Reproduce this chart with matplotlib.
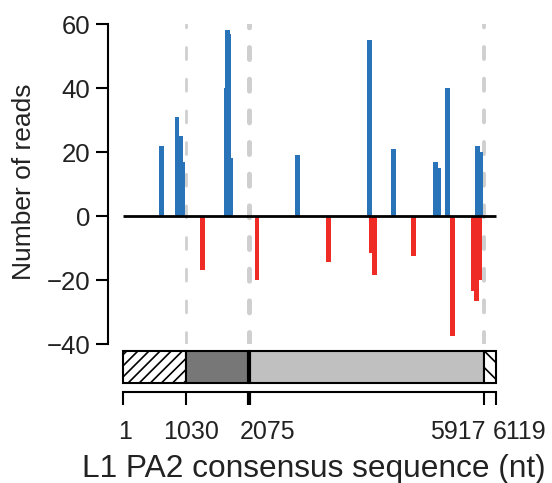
import matplotlib
matplotlib.use("Agg")
import matplotlib.pyplot as plt
import matplotlib.transforms as mtransforms
from matplotlib.patches import Rectangle

plt.rcParams['font.family'] = ['Liberation Sans', 'DejaVu Sans']
plt.rcParams['hatch.linewidth'] = 1.2
plt.rcParams['lines.scale_dashes'] = False

# L1 PA2 consensus landmarks (nt)
seq_start, seq_end = 1, 6119
orf1_start, orf2_start, orf2_end = 1030, 2075, 5917
landmarks = [seq_start, orf1_start, orf2_start, orf2_end, seq_end]

# sense reads (up) and antisense reads (down)
sense_pos = [629, 886, 944, 977, 1690, 1712, 1735, 1765, 2863, 4041, 4434, 5127, 5179, 5320, 5816, 5873]
sense_reads = [22, 31, 25, 17, 40, 58, 57, 18, 19, 55, 21, 17, 15, 40, 22, 20]
anti_pos = [1305, 2199, 3368, 4074, 4123, 4766, 5402, 5746, 5799, 5850]
anti_reads = [-17, -20, -14.5, -11.5, -18.5, -12.5, -37.5, -23.5, -26.5, -20]

blue = '#2973b8'
red = '#ee2c25'
txt = '#222222'
bar_w = 80
xlim = (-245, 6185)

fig = plt.figure(figsize=(5.52, 4.83), dpi=100)

# --- read coverage panel ---
ax = fig.add_axes([108/552, 139/483, 392/552, 320/483])
for x, lw in zip([orf1_start, orf2_start, orf2_end], [2.0, 3.6, 2.8]):
    ax.axvline(x, color='#cfcfcf', lw=lw, dashes=(8.6, 14.2),
               dash_capstyle='round', zorder=0)
ax.bar(sense_pos, sense_reads, width=bar_w, color=blue, linewidth=0, zorder=2)
ax.bar(anti_pos, anti_reads, width=bar_w, color=red, linewidth=0, zorder=2)
ax.plot([seq_start, seq_end], [0, 0], color='black', lw=2,
        solid_capstyle='butt', zorder=3)

ax.set_xlim(*xlim)
ax.set_ylim(-40, 60)
for s in ['top', 'right', 'bottom']:
    ax.spines[s].set_visible(False)
ax.spines['left'].set_linewidth(1.5)
ax.set_xticks([])
ax.set_yticks([-40, -20, 0, 20, 40, 60])
ax.tick_params(axis='y', length=8.6, width=1.5, pad=4.3, labelsize=18.5,
               labelcolor=txt)
ax.set_ylabel('Number of reads', fontsize=19, color=txt, va='center')
ax.yaxis.set_label_coords(-0.214, 0.506)

# --- genome schematic ---
ax2 = fig.add_axes([108/552, 91/483, 392/552, 41/483])
ax2.set_xlim(*xlim)
ax2.set_ylim(0, 1)
box_lo, box_hi = 0.22, 1.0
segments = [(seq_start, orf1_start, 'white', '///'),
            (orf1_start, orf2_start, '#777777', None),
            (orf2_start, orf2_end, '#c0c0c0', None),
            (orf2_end, seq_end, 'white', '\\\\')]
for a, b, fc, h in segments:
    ax2.add_patch(Rectangle((a, box_lo), b - a, box_hi - box_lo, facecolor=fc,
                            edgecolor='black', hatch=h, lw=1.5, clip_on=False))
ax2.plot([orf2_start, orf2_start], [box_lo, box_hi], color='black', lw=3,
         solid_capstyle='butt', clip_on=False)

for s in ['top', 'right', 'left']:
    ax2.spines[s].set_visible(False)
ax2.spines['bottom'].set_bounds(seq_start, seq_end)
ax2.spines['bottom'].set_linewidth(1.5)
ax2.set_yticks([])
ax2.set_xticks(landmarks)
ax2.set_xticklabels([str(v) for v in landmarks])
ax2.tick_params(axis='x', length=9.4, width=1.5, pad=10.5, labelsize=18,
                labelcolor=txt)
ax2.xaxis.get_major_ticks()[2].tick1line.set_markeredgewidth(3)
offsets_px = [2, 5, 18, -26, 24]
for lab, dx in zip(ax2.get_xticklabels(), offsets_px):
    lab.set_transform(lab.get_transform() +
                      mtransforms.ScaledTranslation(dx/100, 0, fig.dpi_scale_trans))

ax2.set_xlabel('L1 PA2 consensus sequence (nt)', fontsize=22.8, color=txt,
               va='baseline')
ax2.xaxis.set_label_coords(0.5255, -2.066)

fig.savefig('out.png', dpi=100)
